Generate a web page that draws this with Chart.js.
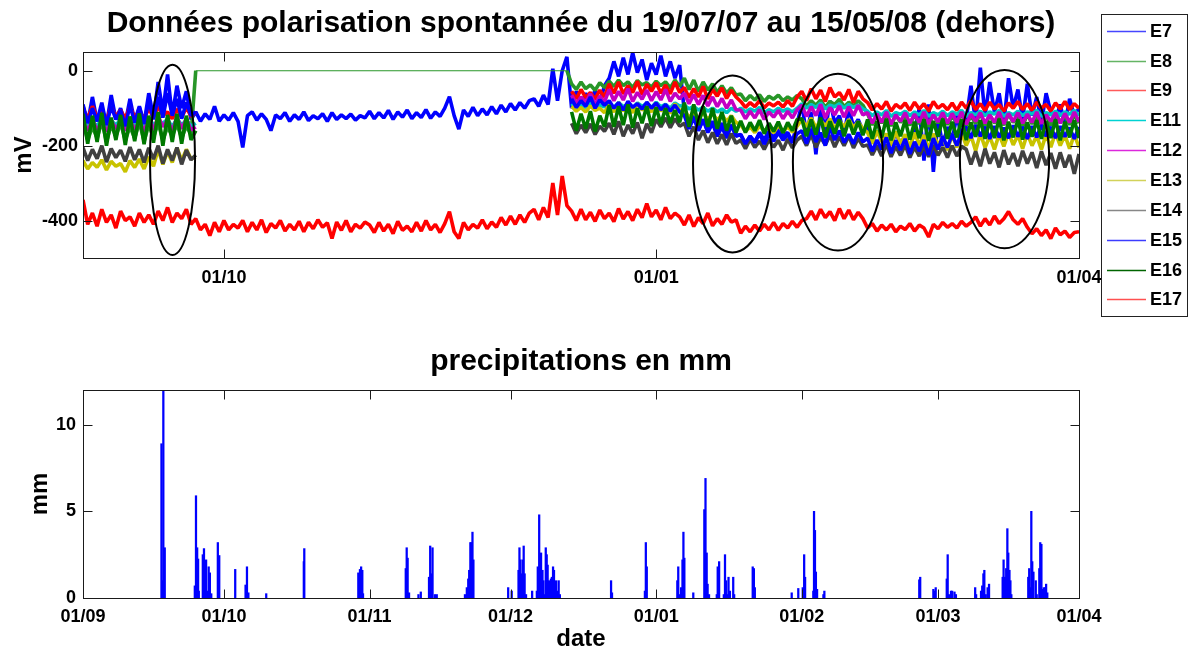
<!DOCTYPE html>
<html>
<head>
<meta charset="utf-8">
<script src="https://cdn.jsdelivr.net/npm/chart.js@4.4.1/dist/chart.umd.min.js"></script>
<style>
  html, body { margin: 0; padding: 0; background: #fff; }
  body { width: 1193px; height: 656px; position: relative; overflow: hidden; }
  canvas { position: absolute; left: 0; }
  #top { top: 0; }
  #bottom { top: 335px; }
</style>
</head>
<body>
<canvas id="top" width="1193" height="335"></canvas>
<canvas id="bottom" width="1193" height="321"></canvas>
<script>
// ---- x axis: days since 01/09/2007 ----
const MONTH_TICKS = [0, 30, 61, 91, 122, 153, 182, 212];
const MONTH_LABELS = ['01/09', '01/10', '01/11', '01/12', '01/01', '01/02', '01/03', '01/04'];
const TOP_X_TICKS = [30, 122, 212];
const TOP_Y_TICKS = [-400, -200, 0];
const BOTTOM_Y_TICKS = [0, 5, 10];
const SEP_START = 0;   // first segment starts 01/09
const GAP_START = 24;  // E8 flat segment
const WIN_START = 104; // second segment starts ~14/12

// ---- series values (mV), daily ----
const E7 = [-95,-140,-70,-135,-100,-145,-65,-130,-100,-140,-75,-135,-95,-140,
-60,-125,-30,-110,-10,-120,-40,-100,-55,-130,
-110,-135,-115,-130,-95,-135,-118,-132,-112,-135,
-205,-120,-110,-132,-115,-130,-160,-118,-128,-112,-135,-118,-130,-110,-133,-120,-128,-115,-135,-112,-130,-118,-128,-116,-132,-120,-126,
-108,-128,-112,-126,-106,-130,-110,-124,-105,-128,-112,-125,-104,-127,-110,-122,-100,
-69,-120,-156,-105,-122,-98,-120,-102,-118,-96,-115,
-92,-110,-88,-105,-85,-100,-80,
-75,-95,-65,-90,5,-80,0,37,
-100,-55,-95,-60,-90,-50,-85,-40,
-20,25,-15,35,-10,48,-5,30,-25,20,-10,40,-15,25,-20,15,
-110,-150,-120,-160,-130,-165,-140,-175,-150,-180,-145,-175,
-170,-195,-175,-190,-165,-185,-160,-180,-155,-175,-165,-190,-140,
-90,-170,-110,-223,-100,-160,-80,-140,-120,-170,-100,-150,-130,-160,
-150,-190,-160,-185,-170,-200,-165,-195,-175,-210,-160,-100,-240,-90,-270,-130,-200,-150,-185,-120,-175,
-130,-40,-140,8,-120,-30,-110,-60,-140,-20,-100,-50,-130,-35,-120,-70,-140,-60,-110,
-130,-90,-145,-75,-120,-100];

const E8_sep = [-140,-185,-150,-180,-135,-190,-145,-175,-140,-185,-150,-180,-138,-188,-145,-178,-140,-185,-150,-175,-142,-180,-148,-170];
const E8_gap = [0,0,0,0,0,0,0,0,0,0,0,0,0,0,0,0,0,0,0,0,0,0,0,0,0,0,0,0,0,0,0,0,0,0,0,0,0,0,0,0,
0,0,0,0,0,0,0,0,0,0,0,0,0,0,0,0,0,0,0,0,0,0,0,0,0,0,0,0,0,0,0,0,0,0,0,0,0,0,0,0];
const E8_win = [-35,-50,-30,-48,-38,-52,-32,-45,
-28,-42,-25,-40,-30,-45,-26,-38,-32,-44,-28,-40,-30,-46,-25,-42,
-20,-50,-25,-55,-30,-52,-35,-58,-40,-60,-45,-65,
-62,-80,-66,-78,-64,-82,-68,-76,-65,-80,-70,-78,-66,
-75,-95,-80,-92,-78,-98,-82,-90,-76,-96,-84,-94,-80,-92,
-115,-145,-120,-140,-112,-148,-118,-138,-122,-146,-116,-142,-120,-150,-114,-140,-118,-144,-122,-138,
-116,-146,-120,-142,-112,-148,-118,-140,-124,-145,-116,-138,-120,-150,-115,-142,-122,-140,-118,-146,
-114,-138,-120,-144,-118,-140];

const E9_sep = [-100,-128,-95,-125,-110,-130,-98,-122,-105,-128,-96,-124,-108,-130,-100,-126,-95,-120,-110,-128,-102,-125,-98,-122,-110];
const E9_win = [-55,-75,-50,-72,-58,-76,-52,-70,
-35,-60,-30,-62,-40,-58,-28,-64,-36,-55,-32,-60,-38,-62,-30,-58,
-45,-72,-48,-70,-42,-75,-50,-68,-46,-74,-52,-70,
-82,-98,-85,-96,-80,-99,-86,-94,-84,-97,-80,-95,-70,
-55,-80,-48,-75,-52,-82,-45,-70,-58,-78,-50,-85,-55,-75,
-85,-105,-88,-102,-82,-108,-90,-100,-86,-106,-84,-102,-88,-108,-82,-100,-90,-104,-86,-106,
-84,-100,-80,-104,-88,-106,-84,-102,-90,-108,-86,-100,-82,-104,-88,-106,-84,-100,-90,-108,
-86,-102,-82,-104,-88,-100];

const E11_sep = [-130,-150,-135,-148,-128,-152,-132,-145,-130,-150,-136,-148,-130,-152,-125,-145,-135,-140,-130,-150,-128,-145,-132,-148,-140];
const E11_win = [-88,-100,-90,-98,-86,-102,-92,-96,
-88,-98,-85,-96,-90,-100,-86,-95,-88,-98,-84,-96,-90,-100,-86,-94,
-92,-102,-95,-105,-98,-108,-100,-110,-102,-112,-100,-108,
-100,-110,-102,-108,-98,-112,-104,-110,-100,-108,-102,-110,-100,
-88,-100,-90,-98,-86,-102,-92,-96,-88,-100,-90,-98,-92,-102,
-108,-120,-110,-118,-106,-122,-112,-116,-108,-120,-110,-118,-106,-122,-112,-118,-108,-120,-110,-116,
-106,-122,-112,-118,-108,-120,-110,-116,-106,-122,-112,-118,-108,-120,-110,-116,-106,-122,-112,-118,
-108,-120,-110,-116,-106,-120];

const E12_sep = [-135,-160,-130,-158,-138,-162,-132,-155,-136,-160,-130,-158,-134,-162,-125,-160,-120,-150,-130,-162,-124,-155,-128,-158,-150];
const E12_win = [-65,-88,-70,-85,-62,-90,-68,-84,
-50,-80,-55,-78,-48,-82,-58,-76,-52,-80,-56,-78,-50,-82,-60,-75,
-60,-88,-64,-90,-66,-94,-70,-96,-74,-100,-78,-104,
-105,-128,-108,-126,-104,-130,-110,-124,-106,-128,-108,-126,-104,
-92,-122,-96,-120,-90,-126,-98,-118,-94,-124,-96,-120,-92,-118,
-112,-140,-115,-138,-110,-143,-118,-135,-112,-140,-116,-138,-110,-142,-118,-136,-112,-140,-114,-138,
-110,-143,-116,-135,-112,-140,-118,-138,-110,-142,-114,-136,-112,-140,-116,-138,-110,-143,-118,-135,
-112,-140,-114,-138,-110,-136];

const E13_sep = [-240,-262,-245,-258,-238,-265,-242,-255,-248,-270,-240,-258,-236,-262,-230,-255,-210,-250,-215,-245,-205,-240,-210,-235,-230];
const E13_win = [-95,-108,-98,-110,-94,-106,-100,-112,
-90,-110,-85,-108,-92,-112,-88,-105,-94,-110,-86,-108,-92,-114,-88,-106,
-105,-125,-110,-128,-112,-130,-115,-132,-118,-135,-120,-138,
-145,-162,-150,-165,-148,-160,-152,-166,-146,-162,-150,-164,-148,
-130,-150,-126,-152,-132,-148,-128,-155,-134,-150,-130,-152,-136,-155,
-165,-195,-160,-190,-168,-200,-162,-195,-170,-205,-165,-198,-172,-210,-168,-200,-175,-212,-170,-205,
-165,-200,-172,-214,-168,-205,-175,-210,-170,-202,-166,-198,-172,-208,-168,-200,-174,-210,-170,-204,
-166,-200,-172,-208,-170,-205];

const E14_sep = [-205,-240,-210,-235,-200,-244,-208,-232,-212,-242,-204,-238,-210,-245,-206,-236,-200,-248,-210,-240,-205,-250,-212,-238,-225];
const E14_win = [-140,-168,-145,-165,-142,-170,-148,-162,
-140,-170,-135,-175,-145,-168,-138,-180,-142,-165,-130,-150,-126,-152,-128,-148,
-140,-175,-150,-185,-160,-192,-165,-195,-170,-198,-168,-194,
-185,-208,-182,-205,-188,-210,-184,-204,-186,-212,-182,-206,-185,
-175,-200,-170,-205,-178,-198,-172,-204,-176,-200,-174,-206,-180,-202,
-198,-225,-200,-228,-196,-230,-202,-226,-198,-232,-204,-228,-200,-230,-198,-226,-204,-232,-200,-228,-202,
-210,-250,-215,-255,-208,-248,-218,-258,-212,-250,-220,-255,-214,-248,-218,-260,-215,-252,-220,-262,-218,-258,-225,-275,-222];

const E15_sep = [-90,-140,-100,-135,-85,-145,-95,-130,-105,-148,-92,-138,-98,-142,-80,-130,-70,-125,-60,-120,-75,-128,-85,-120,-110];
const E15_win = [-75,-98,-80,-95,-70,-100,-78,-92,
-80,-100,-85,-105,-82,-98,-88,-102,-84,-100,-86,-104,-90,-108,-92,-110,
-120,-155,-125,-160,-130,-162,-135,-165,-140,-170,-145,-172,
-172,-195,-175,-192,-168,-196,-170,-188,-165,-185,-170,-192,-168,
-160,-195,-155,-190,-165,-200,-150,-185,-160,-192,-170,-195,-165,-190,
-180,-215,-185,-210,-178,-220,-186,-212,-182,-222,-190,-215,-185,-225,-180,-210,-175,-205,-170,-200,-165,
-150,-180,-145,-175,-150,-182,-148,-178,-152,-180,-146,-176,-150,-182,-148,-178,-145,-175,-150,-180,-148,-176,-152,-182,-150];

const E16_sep = [-115,-195,-120,-190,-112,-200,-125,-185,-118,-198,-122,-188,-114,-196,-120,-192,-110,-200,-118,-190,-115,-195,-120,-185,-160];
const E16_win = [-110,-160,-115,-155,-108,-162,-120,-150,
-92,-150,-95,-145,-90,-152,-100,-140,-95,-148,-98,-142,-100,-140,-105,-138,
-85,-150,-90,-145,-95,-150,-100,-155,-110,-160,-120,-165,
-134,-165,-138,-160,-132,-168,-140,-162,-136,-166,-138,-160,-130,
-128,-175,-130,-170,-125,-178,-135,-168,-130,-175,-132,-170,-135,-172,
-130,-182,-135,-178,-128,-186,-138,-175,-132,-184,-136,-180,-130,-187,-134,-176,-128,-182,-136,-178,
-130,-185,-138,-176,-132,-182,-134,-180,-128,-186,-136,-178,-130,-184,-138,-176,-132,-182,-134,-180,
-130,-186,-136,-178,-132,-180];

const E17 = [-345,-410,-380,-415,-370,-405,-385,-420,-375,-400,-390,-415,-380,-405,
-385,-410,-375,-400,-365,-405,-380,-395,-370,-410,
-395,-425,-410,-440,-405,-430,-400,-425,-410,-420,
-400,-430,-405,-425,-398,-432,-408,-420,-400,-428,-410,-425,-402,-430,-405,-422,-398,-418,-406,-448,-404,-426,-400,-430,-410,-420,-404,
-412,-432,-405,-428,-410,-435,-402,-426,-415,-430,-405,-428,-400,-425,-410,-432,-408,-376,-430,-448,-405,-425,-410,-420,-398,-422,-404,-418,
-392,-412,-388,-410,-385,-405,-380,
-370,-398,-365,-392,-300,-385,-281,-360,
-375,-400,-370,-398,-378,-402,-372,-395,-380,-403,-368,-396,-376,-400,-370,-392,-355,-390,-372,-398,-365,-395,-380,
-390,-412,-385,-416,-392,-408,-380,-414,-395,-410,-385,-404,-398,
-434,-415,-430,-412,-428,-410,-425,-405,-426,-408,-420,-402,-418,-400,
-395,-375,-398,-370,-392,-376,-400,-368,-395,-372,-398,-378,-395,
-420,-408,-428,-412,-425,-410,-430,-415,-424,-408,-428,-412,-420,-444,-410,-422,-405,-418,-408,-420,-402,-415,
-405,-390,-415,-395,-412,-388,-408,-395,-376,-398,-410,-395,
-418,-435,-422,-440,-425,-448,-420,-438,-428,-445,-432,-430];

// ---- precipitation (day since 01/09, mm) ----
const RAIN_DAY = [16.7,16.9,17.1,17.4, 23.8,24.05,24.3,24.5,24.65, 25.5,25.75,26.0,26.2,26.5,26.75,27.0,27.3, 28.7,29.0, 32.4, 34.6,34.9,35.2, 39.0, 47.0,47.1, 58.6,58.95,59.2,59.45,59.6, 68.7,68.9,69.1,69.4, 71.4,71.9, 73.65,73.9,74.1,74.4,74.9,75.3, 81.3,81.7,82.0,82.2,82.45,82.65,82.9,83.1, 90.5,91.25, 92.7,92.9,93.1,93.4,93.6,93.8,94.0,94.3, 95.6, 96.6,96.8,97.1,97.3,97.5,97.8,98.0,98.2,98.5,98.7,98.9,99.2,99.4,99.6,99.8,100.05,100.25,100.5,100.7,100.95,101.25,101.5, 112.4,112.6, 119.6,119.8,120.0, 126.5,126.7,126.9,127.3,127.6,127.8,128.0, 129.9, 132.25,132.5,132.75,132.95,133.25, 134.9,135.1,135.4, 136.4,136.65,136.9,137.2,137.4,137.7,138.4,138.6, 142.55,142.8,143.0, 150.85, 152.25, 153.2,153.5,153.7, 155.45,155.6,155.8,156.0,156.25, 157.6,157.8, 178.0,178.2, 181.0,181.2,181.5, 183.85,184.05,184.3,184.75,185.0,185.5,185.8, 189.9,190.1, 191.15,191.4,191.65,191.85,192.15,192.55,192.85, 195.75,195.95,196.25,196.5,196.75,196.95,197.2,197.4,197.6, 201.2,201.4,201.65,201.85,202.05,202.3,202.8,203.0, 203.55,203.75,204.0,204.2,204.5,204.8,205.0,205.25];
const RAIN_MM = [8.9,1.0,12,2.9, 0.7,5.9,2.9,2.25,0.4, 2.5,2.85,2.05,2.2,0.4,1.8,1.45,0.25, 3.2,2.45, 1.65, 0.75,1.8,0.3, 0.25, 2.1,2.85, 1.45,1.65,1.8,1.6,0.25, 1.7,2.9,2.3,0.3, 0.2,0.35, 1.2,3.0,1.4,2.9,0.2,0.2, 0.2,0.6,1.1,1.6,3.2,3.2,3.8,2.2, 0.6,0.4, 1.6,2.9,2.2,1.4,2.2,3.0,1.4,0.2, 0.4, 0.4,1.8,4.8,2.2,2.6,1.6,1.0,0.2,2.9,2.5,1.9,1.0,0.5,1.1,1.2,1.8,1.6,0.8,1.0,0.4,1.0,0.2, 1.0,0.3, 0.4,3.2,1.8, 1.0,1.8,0.2,0.6,2.2,3.8,2.3, 0.3, 5.1,6.9,2.6,0.8,0.2, 0.2,1.8,2.1, 0.2,2.5,1.0,0.2,1.2,0.4,1.2,0.2, 1.8,1.7,0.6, 0.3, 0.55, 0.6,2.5,1.2, 0.4,5.0,3.9,1.5,0.5, 0.2,0.4, 1.05,1.2, 0.5,0.4,0.6, 1.1,2.5,0.2,0.4,0.4,0.35,0.2, 0.6,0.2, 0.4,0.7,1.4,1.6,0.2,0.6,0.8, 1.2,2.2,1.2,1.7,4.0,2.6,1.6,1.0,0.2, 1.2,1.7,0.6,5.0,2.1,1.5,1.0,0.2, 1.7,3.2,3.1,0.5,0.6,0.6,0.8,0.3];

// ---- annotation ellipses (day centre, mV centre, day radius, mV radius) ----
const ELLIPSES = [
  {day: 19.05, mv: -238, rDay: 4.8, rMv: 254},
  {day: 138.25, mv: -249, rDay: 8.4, rMv: 236},
  {day: 160.7, mv: -244, rDay: 9.6, rMv: 236},
  {day: 196.15, mv: -236, rDay: 9.5, rMv: 238}
];

// ---- build helpers ----
function seg(arr, start) { return arr.map((v, i) => ({x: start + i, y: v})); }
function twoPart(a, b) {
  return seg(a, SEP_START).concat([{x: (SEP_START + a.length + WIN_START) / 2, y: null}], seg(b, WIN_START));
}
const FONT = "'Liberation Sans', Arial, Helvetica, sans-serif";

const SERIES = [
  {label: 'E7',  color: 'rgb(0,0,255)',     legend: 'rgb(70,70,255)',   data: seg(E7, SEP_START)},
  {label: 'E8',  color: 'rgb(40,150,40)',   legend: 'rgb(100,180,100)', data: seg(E8_sep, SEP_START).concat(seg(E8_gap, GAP_START), seg(E8_win, WIN_START))},
  {label: 'E9',  color: 'rgb(255,0,0)',     legend: 'rgb(255,90,90)',   data: twoPart(E9_sep, E9_win)},
  {label: 'E11', color: 'rgb(0,195,195)',   legend: 'rgb(0,210,210)',   data: twoPart(E11_sep, E11_win)},
  {label: 'E12', color: 'rgb(195,0,195)',   legend: 'rgb(220,40,220)',  data: twoPart(E12_sep, E12_win)},
  {label: 'E13', color: 'rgb(200,195,0)',   legend: 'rgb(210,210,90)',  data: twoPart(E13_sep, E13_win)},
  {label: 'E14', color: 'rgb(64,64,64)',    legend: 'rgb(135,135,135)', data: twoPart(E14_sep, E14_win)},
  {label: 'E15', color: 'rgb(0,0,255)',     legend: 'rgb(60,60,255)',   data: twoPart(E15_sep, E15_win)},
  {label: 'E16', color: 'rgb(0,120,0)',     legend: 'rgb(0,100,0)',     data: twoPart(E16_sep, E16_win)},
  {label: 'E17', color: 'rgb(255,0,0)',     legend: 'rgb(255,80,80)',   data: seg(E17, SEP_START)}
];

// ---- plugins ----
const framePlugin = {
  id: 'frame',
  afterDatasetsDraw(chart, args, opts) {
    const {ctx, chartArea: a, scales} = chart;
    const x = scales.x, y = scales.y;
    ctx.save();
    ctx.strokeStyle = '#1a1a1a';
    ctx.lineWidth = 1;
    const L = Math.round(a.left) + 0.5, R = Math.round(a.right) + 0.5;
    const T = Math.round(a.top) + 0.5, B = Math.round(a.bottom) + 0.5;
    ctx.strokeRect(L, T, R - L, B - T);
    const len = 9;
    ctx.beginPath();
    opts.xTicks.forEach(v => {
      const px = Math.round(x.getPixelForValue(v)) + 0.5;
      ctx.moveTo(px, B); ctx.lineTo(px, B - len);
      ctx.moveTo(px, T); ctx.lineTo(px, T + len);
    });
    opts.yTicks.forEach(v => {
      const py = Math.round(y.getPixelForValue(v)) + 0.5;
      ctx.moveTo(L, py); ctx.lineTo(L + len, py);
      ctx.moveTo(R, py); ctx.lineTo(R - len, py);
    });
    ctx.stroke();
    ctx.restore();
  }
};

const ellipsePlugin = {
  id: 'ellipses',
  afterDatasetsDraw(chart, args, opts) {
    const {ctx, scales} = chart;
    const x = scales.x, y = scales.y;
    ctx.save();
    ctx.strokeStyle = '#000';
    ctx.lineWidth = 2;
    opts.items.forEach(e => {
      const cx = x.getPixelForValue(e.day), cy = y.getPixelForValue(e.mv);
      const rx = Math.abs(x.getPixelForValue(e.day + e.rDay) - cx);
      const ry = Math.abs(y.getPixelForValue(e.mv + e.rMv) - cy);
      ctx.beginPath();
      ctx.ellipse(cx, cy, rx, ry, 0, 0, Math.PI * 2);
      ctx.stroke();
    });
    ctx.restore();
  }
};

const legendBoxPlugin = {
  id: 'legendBox',
  afterDraw(chart, args, opts) {
    const {ctx} = chart;
    ctx.save();
    ctx.strokeStyle = '#222';
    ctx.lineWidth = 1;
    ctx.strokeRect(1101.5, 14.5, 86, 302);
    ctx.font = 'bold 18px ' + FONT;
    ctx.textBaseline = 'middle';
    ctx.textAlign = 'left';
    chart.data.datasets.forEach((ds, i) => {
      const yy = Math.round(30.7 + i * 29.85) + 0.5;
      ctx.strokeStyle = ds.legendColor;
      ctx.lineWidth = 1.5;
      ctx.beginPath();
      ctx.moveTo(1107, yy); ctx.lineTo(1146, yy);
      ctx.stroke();
      ctx.fillStyle = '#000';
      ctx.fillText(ds.label, 1150, yy + 1);
    });
    ctx.restore();
  }
};

function monthLabel(v) {
  const i = MONTH_TICKS.indexOf(v);
  return i >= 0 ? MONTH_LABELS[i] : '';
}

// flat placeholder segments (both ends at 0) are drawn thin
const thinFlat = ctx => (ctx.p0.parsed.y === 0 && ctx.p1.parsed.y === 0) ? 1.2 : undefined;

// ---- top chart ----
new Chart(document.getElementById('top'), {
  type: 'line',
  data: {
    datasets: SERIES.map((s, i) => ({
      label: s.label,
      data: s.data,
      borderColor: s.color,
      backgroundColor: s.color,
      legendColor: s.legend,
      borderWidth: 3.6,
      borderJoinStyle: 'bevel',
      pointRadius: 0,
      fill: false,
      tension: 0,
      spanGaps: false,
      segment: {borderWidth: thinFlat},
      order: SERIES.length - i
    }))
  },
  options: {
    responsive: false,
    animation: false,
    events: [],
    layout: {padding: {left: 0, right: 114, top: 0, bottom: 0}},
    plugins: {
      legend: {display: false},
      tooltip: {enabled: false},
      title: {
        display: true,
        text: 'Données polarisation spontannée du 19/07/07 au 15/05/08 (dehors)',
        color: '#000',
        fullSize: false,
        font: {family: FONT, size: 30, weight: 'bold', lineHeight: 1.2},
        padding: {top: 6, bottom: 10}
      },
      frame: {xTicks: [30, 122], yTicks: TOP_Y_TICKS},
      ellipses: {items: ELLIPSES}
    },
    scales: {
      x: {
        type: 'linear', min: 0, max: 212, offset: false,
        afterBuildTicks: s => { s.ticks = TOP_X_TICKS.map(v => ({value: v})); },
        afterFit: s => { s.height = 77; },
        ticks: {callback: v => monthLabel(v), color: '#000', autoSkip: false, maxRotation: 0, padding: 9,
                font: {family: FONT, size: 18, weight: 'bold'}},
        grid: {display: false, drawTicks: false},
        border: {display: false}
      },
      y: {
        type: 'linear', min: -500, max: 50,
        afterBuildTicks: s => { s.ticks = TOP_Y_TICKS.map(v => ({value: v})); },
        afterFit: s => { s.width = 83; },
        ticks: {color: '#000', padding: 5, font: {family: FONT, size: 18, weight: 'bold'}},
        grid: {display: false, drawTicks: false},
        border: {display: false},
        title: {display: true, text: 'mV', color: '#000', font: {family: FONT, size: 24, weight: 'bold'}, padding: {top: 10, bottom: 0}}
      }
    }
  },
  plugins: [ellipsePlugin, framePlugin, legendBoxPlugin]
});

// ---- bottom chart ----
new Chart(document.getElementById('bottom'), {
  type: 'bar',
  data: {
    datasets: [{
      label: 'precipitations',
      data: RAIN_DAY.map((d, i) => ({x: d, y: RAIN_MM[i]})),
      backgroundColor: 'rgb(0,0,255)',
      borderWidth: 0,
      barThickness: 1.6
    }]
  },
  options: {
    responsive: false,
    animation: false,
    events: [],
    layout: {padding: {left: 0, right: 114, top: 0, bottom: 0}},
    plugins: {
      legend: {display: false},
      tooltip: {enabled: false},
      title: {
        display: true,
        text: 'precipitations en mm',
        color: '#000',
        fullSize: false,
        font: {family: FONT, size: 30, weight: 'bold', lineHeight: 1.2},
        padding: {top: 9, bottom: 10}
      },
      frame: {xTicks: MONTH_TICKS, yTicks: BOTTOM_Y_TICKS}
    },
    scales: {
      x: {
        type: 'linear', min: 0, max: 212, offset: false,
        afterBuildTicks: s => { s.ticks = MONTH_TICKS.map(v => ({value: v})); },
        afterFit: s => { s.height = 58; },
        ticks: {callback: v => monthLabel(v), color: '#000', autoSkip: false, maxRotation: 0, padding: 8,
                font: {family: FONT, size: 18, weight: 'bold'}},
        grid: {display: false, drawTicks: false, offset: false},
        border: {display: false},
        title: {display: true, text: 'date', color: '#000', font: {family: FONT, size: 24, weight: 'bold'}, padding: {top: 0, bottom: 2}}
      },
      y: {
        type: 'linear', min: 0, max: 12,
        afterBuildTicks: s => { s.ticks = BOTTOM_Y_TICKS.map(v => ({value: v})); },
        afterFit: s => { s.width = 83; },
        ticks: {color: '#000', padding: 7, font: {family: FONT, size: 18, weight: 'bold'}},
        grid: {display: false, drawTicks: false},
        border: {display: false},
        title: {display: true, text: 'mm', color: '#000', font: {family: FONT, size: 24, weight: 'bold'}, padding: {top: 26, bottom: 0}}
      }
    }
  },
  plugins: [framePlugin]
});
</script>
</body>
</html>
